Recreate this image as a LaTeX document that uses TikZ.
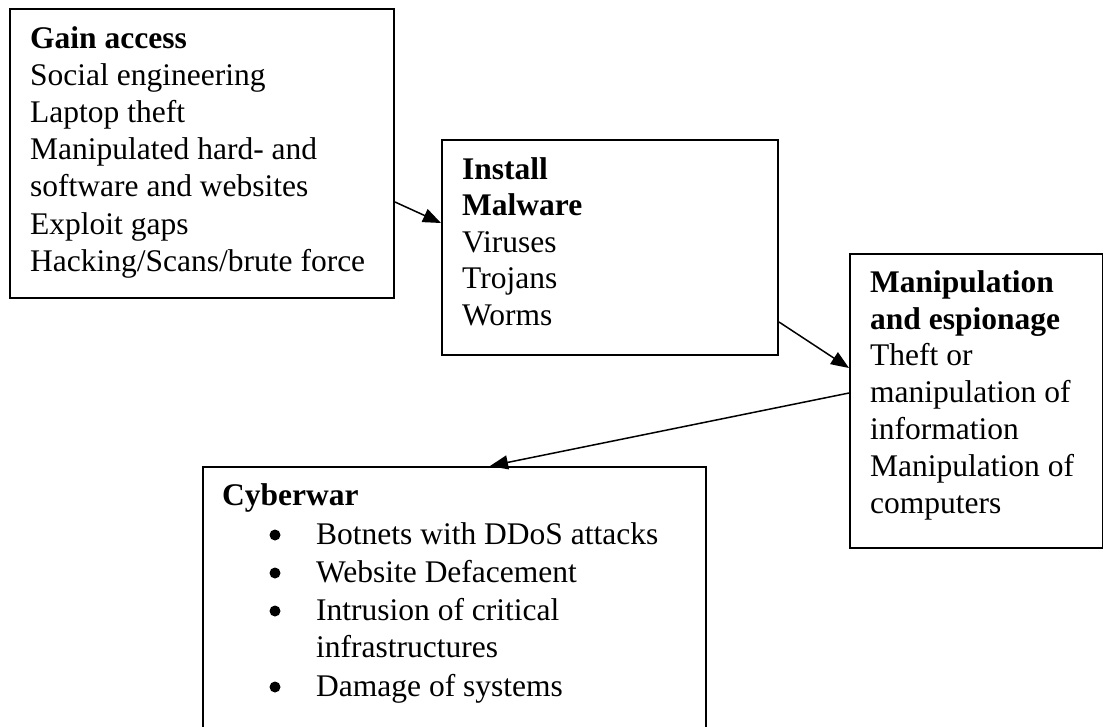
\documentclass[tikz,border=0pt]{standalone}
\usepackage{fontspec}
\setmainfont{Liberation Serif}
\usetikzlibrary{arrows.meta}
\begin{document}
\begin{tikzpicture}[x=1pt,y=-1pt,
  box/.style={draw, line width=2pt, inner sep=0pt, anchor=north west},
  txt/.style={anchor=base west, inner sep=0pt, font=\fontsize{31.5}{37}\selectfont},
  hd/.style={anchor=base west, inner sep=0pt, font=\fontsize{31.5}{37}\selectfont\bfseries},
  arr/.style={line width=1.5pt, -{Triangle[length=18pt,width=14pt]}}]
\path[use as bounding box] (0,0) rectangle (1103,726);
\clip (0,0) rectangle (1103,726);
% boxes
\node[box, minimum width=384pt, minimum height=289pt] (b1) at (9,8) {};
\node[box, minimum width=336pt, minimum height=215pt] (b2) at (441,139) {};
\node[box, minimum width=253pt, minimum height=294pt] (b3) at (849,253) {};
\node[box, minimum width=503pt, minimum height=290pt] (b4) at (202,466) {};
% box 1 text
\node[hd] (t1h) at (30,48) {Gain access};
\foreach \t [count=\i] in {Social engineering, Laptop theft, Manipulated hard- and, software and websites, Exploit gaps, Hacking/Scans/brute force}
  \node[txt] (t1-\i) at (30,{48+37.2*\i}) {\t};
% box 2 text
\node[hd] (t2h) at (462,179) {Install};
\node[hd] (t2m) at (462,215.5) {Malware};
\foreach \t [count=\i] in {Viruses, Trojans, Worms}
  \node[txt] (t2-\i) at (462,{215.5+36.5*\i}) {\t};
% box 3 text
\node[hd] (t3h) at (870,292) {Manipulation};
\node[hd] (t3m) at (870,329) {and espionage};
\foreach \t [count=\i] in {Theft or, manipulation of, information, Manipulation of, computers}
  \node[txt] (t3-\i) at (870,{329+36.8*\i}) {\t};
% box 4 text
\node[hd] (t4h) at (222,505) {Cyberwar};
\node[txt] (t4-1) at (316,544) {Botnets with DDoS attacks};
\node[txt] (t4-2) at (316,582) {Website Defacement};
\node[txt] (t4-3) at (316,620) {Intrusion of critical};
\node[txt] (t4-3b) at (316,657) {infrastructures};
\node[txt] (t4-4) at (316,696) {Damage of systems};
\foreach \y in {544,582,620,696}
  \fill (275,{\y-9}) circle (5.5pt);
% arrows
\draw[arr] ([yshift=-194pt]b1.north east) -- ([yshift=-84pt]b2.north west);
\draw[arr] ([yshift=-183pt]b2.north east) -- ([yshift=-115pt]b3.north west);
\draw[arr] ([yshift=-140pt]b3.north west) -- ([xshift=288pt]b4.north west);
\end{tikzpicture}
\end{document}
